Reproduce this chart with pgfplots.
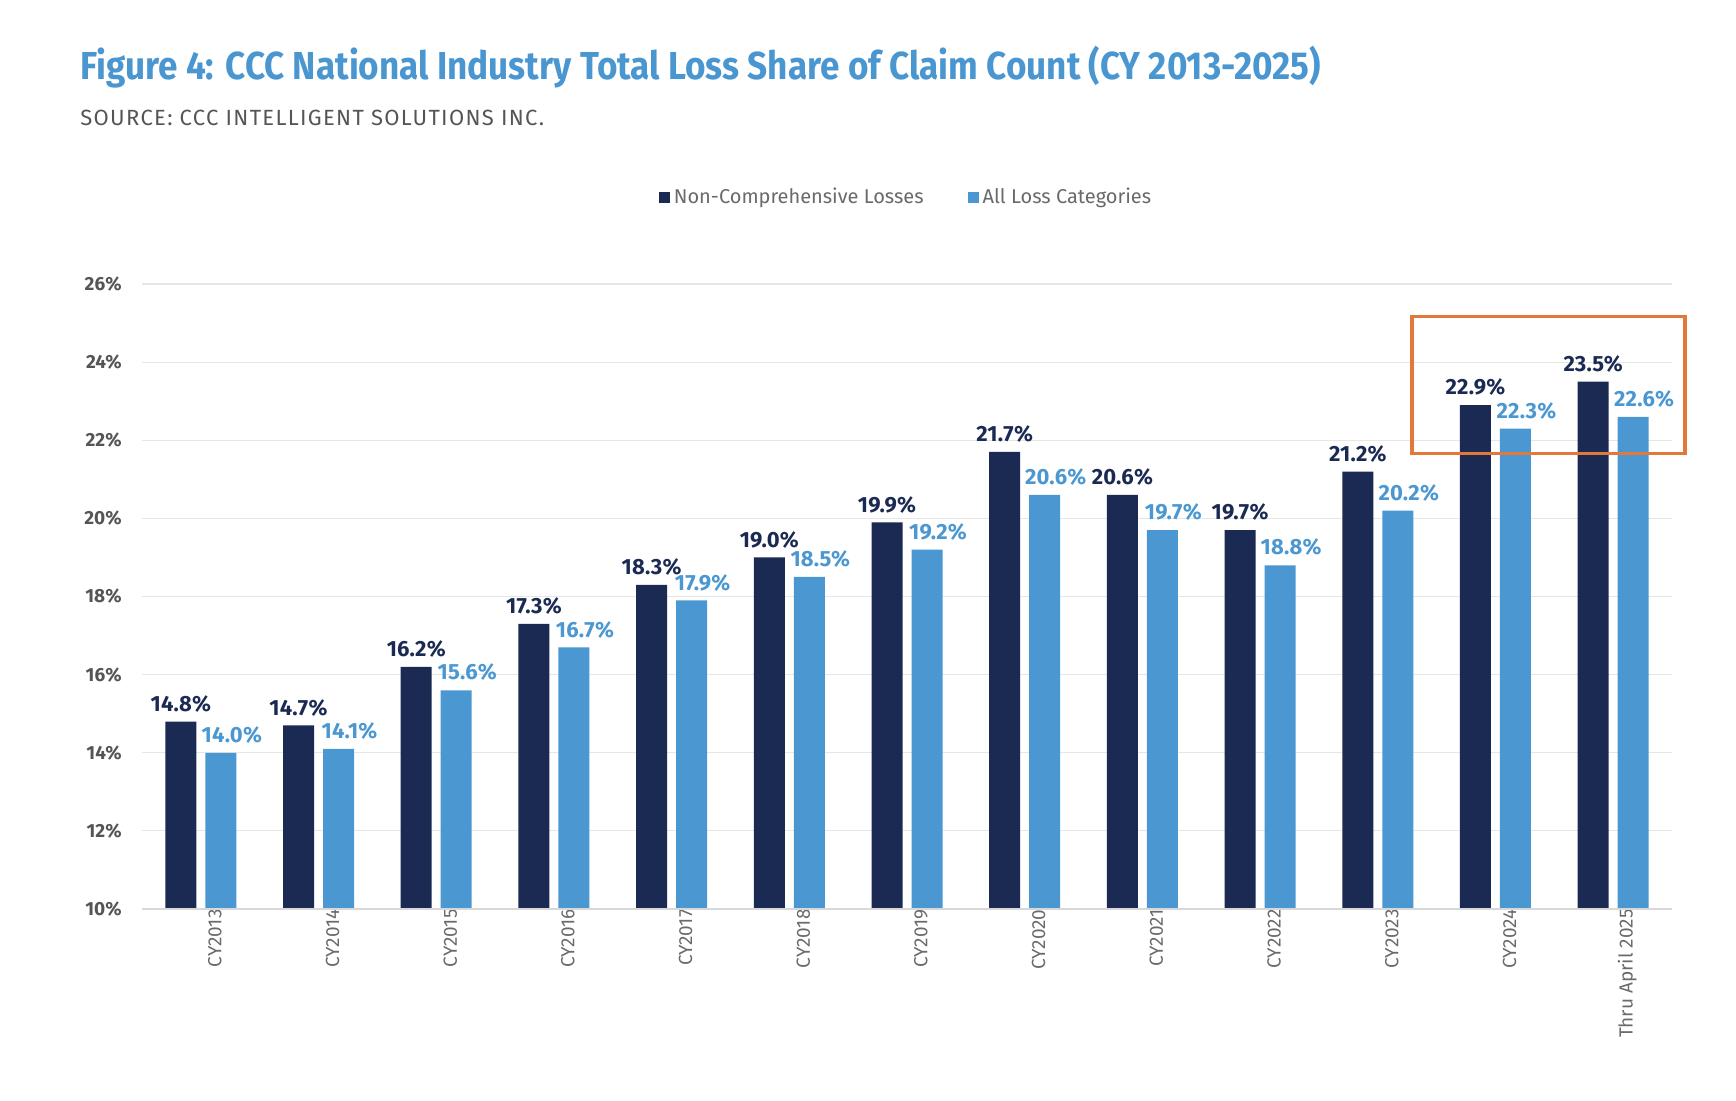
\documentclass[border=0pt]{standalone}
\usepackage{fontspec}
\setmainfont{Fira Sans}
\newfontfamily\titlefont[FakeStretch=0.9]{Fira Sans}
\newfontfamily\spacedfont[LetterSpace=6]{Fira Sans}
\newfontfamily\labfont[LetterSpace=1]{Fira Sans}
\usepackage{pgfplots}
\pgfplotsset{compat=1.18}
\pgfkeys{/pgf/number format/assume math mode=true}
\definecolor{navy}{HTML}{1B2A52}
\definecolor{sky}{HTML}{4B97D1}
\definecolor{titleblue}{HTML}{4A96D0}
\definecolor{orangebox}{HTML}{E2793A}
\definecolor{tickgray}{HTML}{555555}
\definecolor{labgray}{HTML}{6A6A6A}
\definecolor{gridgray}{HTML}{E6E6E6}
\definecolor{basegray}{HTML}{D8D8D8}
\begin{document}
\begin{tikzpicture}
\useasboundingbox (0,0) rectangle (868pt,550pt);
\node[anchor=base west, inner sep=0, text=titleblue, font=\titlefont\bfseries\fontsize{19.5}{23}\selectfont] at (40pt,510pt) {Figure 4: CCC National Industry Total Loss Share of Claim Count (CY 2013-2025)};
\node[anchor=base west, inner sep=0, text=tickgray, font=\spacedfont\fontsize{11}{13}\selectfont] at (40pt,487pt) {SOURCE: CCC INTELLIGENT SOLUTIONS INC.};
\begin{axis}[
  at={(71pt,95.5pt)}, anchor=south west,
  scale only axis, width=765pt, height=312.5pt,
  xmin=-0.5, xmax=12.5, ymin=10, ymax=26,
  ytick={10,12,...,26},
  yticklabel={\pgfmathprintnumber{\tick}\%},
  xtick={0,...,12},
  xticklabels={CY2013,CY2014,CY2015,CY2016,CY2017,CY2018,CY2019,CY2020,CY2021,CY2022,CY2023,CY2024,Thru April 2025},
  axis line style={draw=none},
  tick style={draw=none},
  major tick length=0pt,
  ymajorgrids, grid style={gridgray, line width=0.6pt},
  yticklabel style={font=\bfseries\fontsize{9.5}{11}\selectfont, text=tickgray, inner sep=0pt, anchor=east, xshift=-10pt},
  xticklabel style={font=\fontsize{9.5}{11}\selectfont, text=labgray, rotate=90, anchor=east, inner sep=0pt, yshift=-7pt},
  legend style={draw=none, at={(0.5,1.139)}, anchor=center, legend columns=2,
    font=\fontsize{10}{12}\selectfont, text=labgray,
    /tikz/every even column/.append style={column sep=20pt},
    legend cell align=left, inner sep=0pt},
  legend image code/.code={\fill[#1] (0pt,-2.75pt) rectangle (5.5pt,2.75pt);},
  nodes near coords={\pgfmathprintnumber[fixed,fixed zerofill,precision=1]{\pgfplotspointmeta}\%},
  every node near coord/.append style={font=\labfont\bfseries\fontsize{11}{13}\selectfont, anchor=south, inner sep=0pt, yshift=4.5pt},
]
\addplot[ybar, fill=navy, draw=none, bar width=15.5pt, bar shift=-10pt,
  every node near coord/.append style={text=navy, xshift=-10pt}] coordinates {
(0,14.8) (1,14.7) (2,16.2) (3,17.3) (4,18.3) (5,19.0) (6,19.9) (7,21.7) (8,20.6) (9,19.7) (10,21.2) (11,22.9) (12,23.5)};
\addlegendentry{Non-Comprehensive Losses}
\addplot[ybar, fill=sky, draw=none, bar width=15.5pt, bar shift=10pt,
  every node near coord/.append style={text=sky, xshift=15.5pt}] coordinates {
(0,14.0) (1,14.1) (2,15.6) (3,16.7) (4,17.9) (5,18.5) (6,19.2) (7,20.6) (8,19.7) (9,18.8) (10,20.2) (11,22.3) (12,22.6)};
\addlegendentry{All Loss Categories}
\draw[basegray, line width=0.8pt] (axis cs:-0.5,10) -- (axis cs:12.5,10);
\coordinate (bA) at (axis cs:10.29,21.67);
\coordinate (bB) at (axis cs:12.61,25.16);
\end{axis}
\draw[orangebox, line width=1.6pt] (bA) rectangle (bB);
\end{tikzpicture}
\end{document}
